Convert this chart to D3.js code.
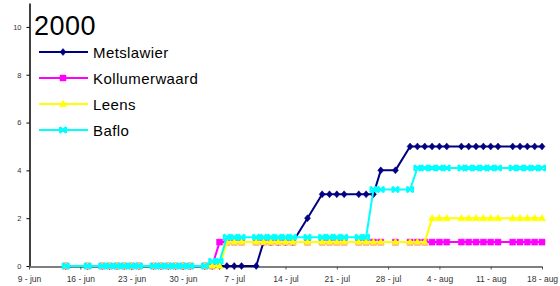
<!DOCTYPE html>
<html><head><meta charset="utf-8">
<script src="https://cdn.jsdelivr.net/npm/d3@7"></script>
<style>
html,body{margin:0;padding:0;background:#fff;}
svg{display:block;font-family:"Liberation Sans",Arial,sans-serif;}
</style></head>
<body><svg id="chart" width="560" height="286"></svg>
<script>
const title = "2000";
const dates = ["2000-06-14","2000-06-17","2000-06-19","2000-06-20","2000-06-21","2000-06-22","2000-06-23","2000-06-24",
"2000-06-26","2000-06-27","2000-06-28","2000-06-29","2000-06-30","2000-07-01","2000-07-03","2000-07-04","2000-07-05",
"2000-07-06","2000-07-07","2000-07-08","2000-07-10","2000-07-11","2000-07-12","2000-07-13","2000-07-14","2000-07-15",
"2000-07-17","2000-07-19","2000-07-20","2000-07-21","2000-07-22","2000-07-24","2000-07-25","2000-07-26","2000-07-27",
"2000-07-29","2000-07-31","2000-08-01","2000-08-02","2000-08-03","2000-08-04","2000-08-05","2000-08-07","2000-08-08",
"2000-08-09","2000-08-10","2000-08-11","2000-08-12","2000-08-14","2000-08-15","2000-08-16","2000-08-17","2000-08-18"];
const metslawier =   [0,0,0,0,0,0,0,0, 0,0,0,0,0,0,0,0,0, 0,0,0,0,1,1,1,1,1, 2,3,3,3,3,3,3,3,4, 4,5,5,5,5,5,5,5,5, 5,5,5,5,5,5,5,5,5];
const kollumerwaard =[0,0,0,0,0,0,0,0, 0,0,0,0,0,0,0,0,1, 1,1,1,1,1,1,1,1,1, 1,1,1,1,1,1,1,1,1, 1,1,1,1,1,1,1,1,1, 1,1,1,1,1,1,1,1,1];
const leens =        [0,0,0,0,0,0,0,0, 0,0,0,0,0,0,0,0,0, 1,1,1,1,1,1,1,1,1, 1,1,1,1,1,1,1,1,1, 1,1,1,1,2,2,2,2,2, 2,2,2,2,2,2,2,2,2];
const baflo =        [0,0,0,0,0,0,0,0, 0,0,0,0,0,0,0,0.2,0.2, 1.2,1.2,1.2,1.2,1.2,1.2,1.2,1.2,1.2, 1.2,1.2,1.2,1.2,1.2,1.2,1.2,3.2,3.2, 3.2,3.2,4.1,4.1,4.1,4.1,4.1,4.1,4.1, 4.1,4.1,4.1,4.1,4.1,4.1,4.1,4.1,4.1];
const seriesNames = ["Metslawier","Kollumerwaard","Leens","Baflo"];
const seriesColors = ["#000080","#FF00FF","#FFFF00","#00FFFF"];
const seriesMarkers = ["diamond","square","triangle","cross"];
const xTickDates = ["2000-06-09","2000-06-16","2000-06-23","2000-06-30","2000-07-07","2000-07-14","2000-07-21","2000-07-28","2000-08-04","2000-08-11","2000-08-18"];
const xTickLabels = ["9 - jun","16 - jun","23 - jun","30 - jun","7 - jul","14 - jul","21 - jul","28 - jul","4 - aug","11 - aug","18 - aug"];
const yTicks = [0,2,4,6,8,10];

const parse = d3.timeParse("%Y-%m-%d");
const svg = d3.select("#chart");
const x = d3.scaleTime().domain([parse("2000-06-09"), parse("2000-08-18")]).range([29, 542]);
const y = d3.scaleLinear().domain([0, 11]).range([266, 3]);

// axes
const yAxis = svg.append("g").attr("transform","translate(29.5,0)")
  .call(d3.axisLeft(y).tickValues(yTicks).tickSize(3).tickSizeOuter(0).tickPadding(5));
yAxis.select(".domain").attr("stroke","#000").attr("stroke-width",1.5);
yAxis.selectAll(".tick line").attr("stroke","#000");
yAxis.selectAll(".tick text").attr("font-size",7.5).attr("fill","#333").attr("font-family","Liberation Sans, Arial, sans-serif");

const tickMap = new Map(xTickDates.map((d,i)=>[+parse(d), xTickLabels[i]]));
const xAxis = svg.append("g").attr("transform","translate(0,266.5)")
  .call(d3.axisBottom(x).tickValues(xTickDates.map(parse)).tickSize(3).tickSizeOuter(0).tickPadding(6)
    .tickFormat(d=>tickMap.get(+d)));
xAxis.select(".domain").attr("stroke","#555").attr("stroke-width",1.5);
xAxis.selectAll(".tick line").attr("stroke","#555");
xAxis.selectAll(".tick text").attr("font-size",8.5).attr("fill","#333").attr("font-family","Liberation Sans, Arial, sans-serif");

const symbolPath = {
  diamond: "M0,-3.5L3,0L0,3.5L-3,0Z",
  square: "M-3,-3H3V3H-3Z",
  triangle: "M0,-3.8L3.6,2.6H-3.6Z",
  cross: "M-3,-3L3,3M-3,3L3,-3M-3,-3V3M3,-3V3"
};
function drawMarker(g, type, color, cx, cy){
  const p = g.append("path").attr("d", symbolPath[type]).attr("transform",`translate(${cx},${cy})`);
  if(type==="cross") p.attr("fill","none").attr("stroke",color).attr("stroke-width",2);
  else p.attr("fill",color).attr("stroke",color).attr("stroke-width",0.5);
}

const allValues = [metslawier, kollumerwaard, leens, baflo];
const line = d3.line().x(d=>x(d.date)).y(d=>y(d.v));
allValues.forEach((vals,si)=>{
  const data = dates.map((d,i)=>({date:parse(d), v:vals[i]}));
  const g = svg.append("g");
  g.append("path").datum(data).attr("d",line).attr("fill","none")
    .attr("stroke",seriesColors[si]).attr("stroke-width",2).attr("stroke-linejoin","round");
  data.forEach(d=>drawMarker(g, seriesMarkers[si], seriesColors[si], x(d.date), y(d.v)));
});

// title
svg.append("text").attr("x",34).attr("y",35).attr("font-size",27).attr("letter-spacing",0.5).attr("fill","#000").text(title);

// legend
const legendY = [52, 78, 104, 130];
seriesNames.forEach((name,i)=>{
  const g = svg.append("g");
  g.append("line").attr("x1",39).attr("x2",88).attr("y1",legendY[i]).attr("y2",legendY[i])
    .attr("stroke",seriesColors[i]).attr("stroke-width",2);
  drawMarker(g, seriesMarkers[i], seriesColors[i], 63, legendY[i]);
  g.append("text").attr("x",93).attr("y",legendY[i]+5.5).attr("font-size",15).attr("letter-spacing",0.4)
    .attr("fill","#000").text(name);
});
</script></body></html>
